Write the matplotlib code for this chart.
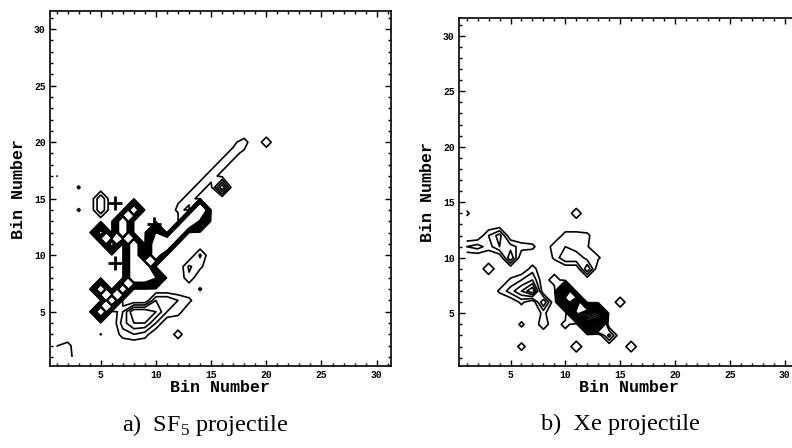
import numpy as np
import matplotlib
matplotlib.use("Agg")
import matplotlib.pyplot as plt
from matplotlib.ticker import MultipleLocator

# ---------------- data (bin x, bin y, count) ----------------
bins = np.arange(1, 32)
tick_vals = [5, 10, 15, 20, 25, 30]

# panel a: SF5 projectile -- isolated cells, dots and small groups
a_x = [20, 16, 3, 3, 14, 1, 5, 5, 5, 12, 1, 2, 1, 2]
a_y = [20, 16, 16, 14, 7, 17, 3, 14, 15, 3, 1, 1, 2, 2]
a_v = [1.8, 5, 1.15, 1.15, 1.15, 1.05, 1.05, 3, 3, 1.6, 1.5, 1.67, 0.95, 1.43]

# panel a: thin ridge along the upper diagonal
ridge_x = [12, 13, 14, 15, 16, 17, 18, 13, 14, 15, 16, 17, 18, 12, 13, 14, 15, 16, 17]
ridge_y = [14, 15, 16, 17, 18, 19, 20, 14, 15, 16, 17, 18, 19, 15, 16, 17, 18, 19, 20]
ridge_v = [1.3, 1.3, 1.3, 1.3, 1.3, 1.3, 1.5, 0.75, 0.75, 0.75, 0.75, 0.75, 0.75,
           0.75, 0.75, 0.75, 0.75, 0.75, 0.75]

# panel a: dense cluster (main diagonal and neighbours)
core_x = [5, 6, 7, 8, 9, 10, 11, 12, 13, 14,
          8, 7, 7, 5, 6, 8, 8, 8, 10, 10, 9, 10, 5, 14]
core_y = [5, 6, 7, 8, 9, 10, 11, 12, 13, 14,
          14, 13, 12, 12, 11, 9, 10, 11, 11, 12, 8, 8, 7, 13]
core_v = [40, 40, 40, 40, 40, 40, 60, 60, 60, 60,
          40, 40, 40, 30, 30, 40, 40, 40, 40, 25, 40, 25, 40, 20]

# panel a: low-level lobe below the diagonal and loop to its right
lobe_x = [7, 7, 8, 8, 9, 9, 8, 9, 10, 10, 11, 12, 13, 11, 12, 7, 10,
          13, 13, 14, 14]
lobe_y = [3, 4, 4, 5, 5, 4, 3, 3, 5, 6, 6, 6, 6, 5, 5, 5, 4,
          8, 9, 10, 9]
lobe_v = [1.5, 2.5, 4, 5, 5, 4, 2, 1.5, 4, 3, 3, 2, 1.3, 2, 1.5, 2, 2,
          1.8, 2.2, 2.2, 1.3]

# panel b: Xe projectile
b_x = [11, 3, 15, 10, 6, 11, 16, 6, 14, 8, 12, 5, 8, 1,
       10, 11, 12, 13, 10, 11, 12, 13, 9,
       1, 2, 3, 3, 4, 4, 5, 6, 7,
       4, 5, 6, 7, 7, 7, 6, 6, 5, 8,
       9, 9, 10, 10, 10, 11, 11, 11, 12, 12, 12, 13]
b_y = [14, 9, 6, 4, 2, 2, 2, 4, 3, 4, 9, 10, 6, 14,
       7, 6, 5, 5, 6, 5, 4, 4, 8,
       11, 11, 11, 12, 12, 11, 11, 11, 11,
       7, 7, 7, 7, 8, 9, 8, 6, 8, 5,
       10, 11, 10, 11, 12, 10, 11, 12, 10, 11, 12, 10]
b_v = [1.8, 2.0, 1.8, 1.6, 1.5, 1.95, 1.9, 1.3, 3.5, 1.8, 4, 4, 4, 1.3,
       25, 25, 25, 20, 8, 15, 12, 8, 2,
       2, 2.5, 1.5, 2, 3.5, 3, 2.5, 1.5, 1.3,
       1.2, 2.5, 4, 6, 3, 1.5, 2, 1.3, 1.2, 1.3,
       1.2, 1.6, 3, 2, 1.5, 3, 1.2, 1.5, 1.5, 1.1, 1.3, 1.2]

# cross-shaped marks seen in panel a
cross_x = [6.3, 9.8, 6.3]
cross_y = [14.6, 12.8, 9.3]

levels = [1, 2, 3, 4, 5, 6, 7, 8, 9, 10, 11, 12, 13, 14, 15, 16, 18, 20, 22, 24]


def grid(*groups):
    z = np.zeros((len(bins), len(bins)))
    for xs, ys, vs in groups:
        for x, y, v in zip(xs, ys, vs):
            z[y - 1, x - 1] = v
    return z


plt.rcParams['font.family'] = ['Liberation Mono', 'DejaVu Sans']
fig = plt.figure(figsize=(7.92, 4.48), dpi=100)

ax_a = fig.add_axes([0.0631, 0.183, 0.4306, 0.7924])
ax_b = fig.add_axes([0.5795, 0.183, 0.4306, 0.777])

X, Y = np.meshgrid(bins, bins)
Za = grid((a_x, a_y, a_v), (ridge_x, ridge_y, ridge_v),
          (core_x, core_y, core_v), (lobe_x, lobe_y, lobe_v))
Zb = grid((b_x, b_y, b_v))

for ax, Z, lims in [
        (ax_a, Za, ((0.4, 31.3), (0.2, 31.6))),
        (ax_b, Zb, ((0.3, 31.4), (0.25, 31.6)))]:
    ax.contour(X, Y, Z, levels=levels, colors='black', linewidths=1.2)
    ax.set_xlim(*lims[0])
    ax.set_ylim(*lims[1])
    ax.set_xticks(tick_vals)
    ax.set_yticks(tick_vals)
    ax.xaxis.set_minor_locator(MultipleLocator(1))
    ax.yaxis.set_minor_locator(MultipleLocator(1))
    ax.tick_params(which='both', direction='in', top=True, right=True,
                   labelsize=7, pad=3, width=1)
    ax.tick_params(which='major', length=4)
    ax.tick_params(which='minor', length=2)
    for lab in ax.get_xticklabels() + ax.get_yticklabels():
        lab.set_fontweight('bold')
    for sp in ax.spines.values():
        sp.set_linewidth(1.2)
    ax.set_xlabel('Bin Number', fontsize=12, fontweight='bold', labelpad=0)
    ax.set_ylabel('Bin Number', fontsize=12, fontweight='bold', labelpad=6)

ax_a.plot(cross_x, cross_y, linestyle='none', marker='+', markersize=10,
          markeredgewidth=2, color='black')

fig.text(0.259, 0.052, r'a)  SF$_\mathregular{5}$ projectile',
         family='Liberation Serif', fontsize=17.5, ha='center', va='center')
fig.text(0.784, 0.052, 'b)  Xe projectile',
         family='Liberation Serif', fontsize=17.5, ha='center', va='center')

fig.savefig('out.png', dpi=100)
